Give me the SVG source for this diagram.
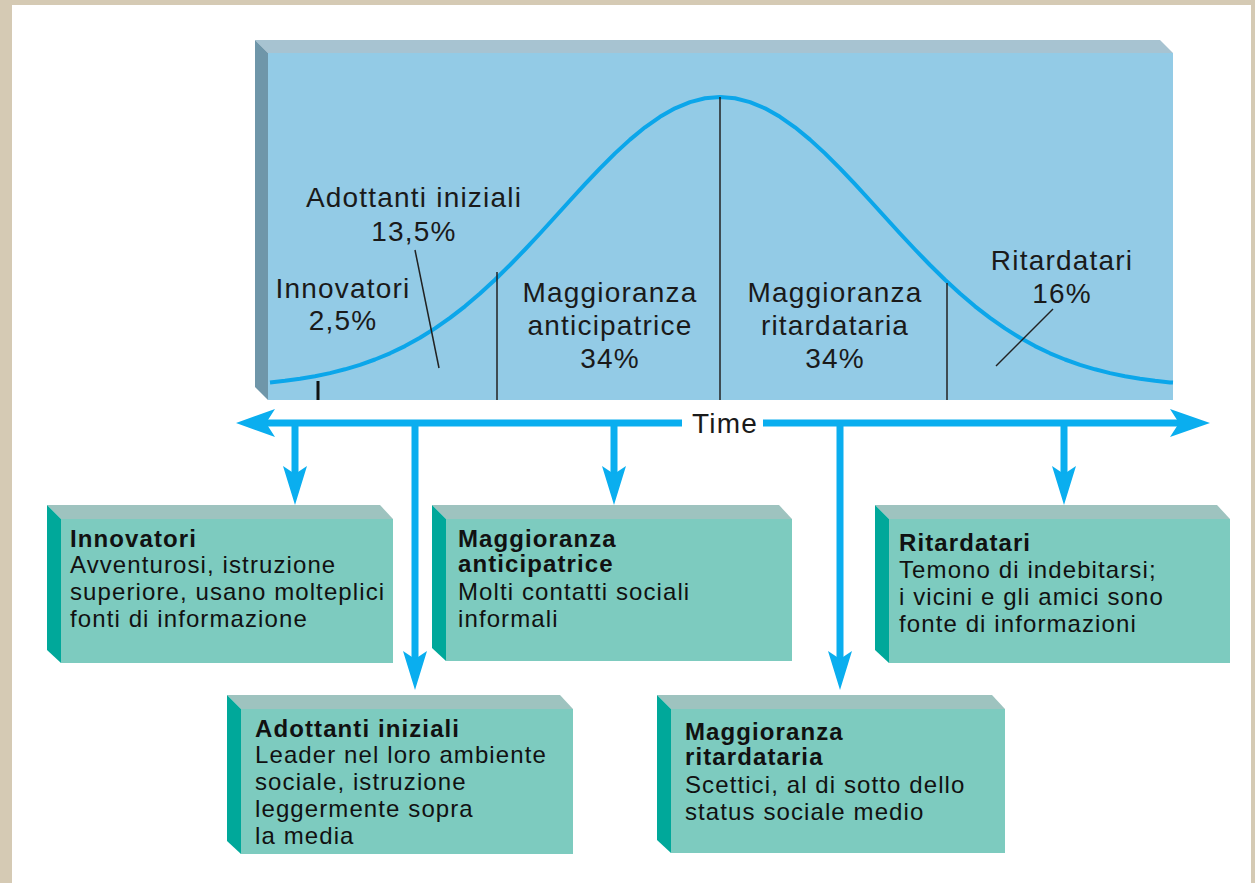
<svg xmlns="http://www.w3.org/2000/svg" width="1255" height="883" viewBox="0 0 1255 883">
<defs>
<style>
.lbl{font-family:"Liberation Sans",Arial,sans-serif;font-size:28px;letter-spacing:1.2px;fill:#1a1a1a;text-anchor:middle}
.bt{font-family:"Liberation Sans",Arial,sans-serif;font-size:24px;letter-spacing:1.1px;fill:#111}
.bt .h{font-weight:bold}
.front{fill:#7dcbbf}
.top{fill:#9ec3bf}
.side{fill:#00a89a}
.tick{stroke:#222;stroke-width:1.5;fill:none}
.axis{stroke:#0aaeef;stroke-width:7;fill:none}
.head{fill:#0aaeef}
</style>
</defs>
<rect x="0" y="0" width="1255" height="883" fill="#d5cab4"/>
<rect x="12" y="5" width="1239" height="878" fill="#ffffff"/>

<g id="chart">
<polygon points="255,40 1160,40 1173,53 268,53" fill="#a7c3d1"/>
<polygon points="255,40 268,53 268,400 255,387" fill="#6f96a9"/>
<rect x="268" y="53" width="905" height="347" fill="#93cbe6"/>
<polyline fill="none" stroke="#0ba6ea" stroke-width="4" stroke-linejoin="round" points="270,382.4 285,380.8 300,378.7 315,376.2 330,373.1 345,369.3 360,364.9 375,359.5 390,353.3 405,346.1 420,337.8 435,328.4 450,317.9 465,306.3 480,293.5 495,279.7 510,265 525,249.5 540,233.5 555,217 570,200.5 585,184.2 600,168.3 615,153.4 630,139.6 645,127.3 660,116.8 675,108.3 690,102.1 705,98.3 720,97 735,98.3 750,102.1 765,108.3 780,116.8 795,127.3 810,139.6 825,153.4 840,168.3 855,184.2 870,200.5 885,217 900,233.5 915,249.5 930,265 945,279.7 960,293.5 975,306.3 990,317.9 1005,328.4 1020,337.8 1035,346.1 1050,353.3 1065,359.5 1080,364.9 1095,369.3 1110,373.1 1125,376.2 1140,378.7 1155,380.8 1170,382.4 1173,382.6"/>
<line x1="318" y1="381" x2="318" y2="400" stroke="#111" stroke-width="3"/>
<line class="tick" x1="497" y1="272" x2="497" y2="400"/>
<line class="tick" x1="720" y1="97" x2="720" y2="400"/>
<line class="tick" x1="947" y1="283" x2="947" y2="400"/>
<line class="tick" x1="415" y1="250" x2="439" y2="368"/>
<line class="tick" x1="1053" y1="309" x2="996" y2="366"/>
<text class="lbl" x="414" y="207">Adottanti iniziali</text>
<text class="lbl" x="414" y="241">13,5%</text>
<text class="lbl" x="343" y="298">Innovatori</text>
<text class="lbl" x="343" y="330">2,5%</text>
<text class="lbl" x="610" y="302">Maggioranza</text>
<text class="lbl" x="610" y="335">anticipatrice</text>
<text class="lbl" x="610" y="368">34%</text>
<text class="lbl" x="835" y="302">Maggioranza</text>
<text class="lbl" x="835" y="335">ritardataria</text>
<text class="lbl" x="835" y="368">34%</text>
<text class="lbl" x="1062" y="270">Ritardatari</text>
<text class="lbl" x="1062" y="303">16%</text>
</g>

<g id="connectors">
<line class="axis" x1="260" y1="423" x2="682" y2="423"/>
<line class="axis" x1="763" y1="423" x2="1185" y2="423"/>
<path class="head" d="M236,423 L275,409 L266,423 L275,437 Z"/>
<path class="head" d="M1210,423 L1170,409 L1179,423 L1170,437 Z"/>
<text class="lbl" x="725" y="433">Time</text>
<line class="axis" x1="295" y1="423" x2="295" y2="478"/>
<path class="head" d="M295,505 L283,466 L295,474 L307,466 Z"/>
<line class="axis" x1="415" y1="423" x2="415" y2="663"/>
<path class="head" d="M415,690 L403,651 L415,659 L427,651 Z"/>
<line class="axis" x1="614" y1="423" x2="614" y2="478"/>
<path class="head" d="M614,505 L602,466 L614,474 L626,466 Z"/>
<line class="axis" x1="840" y1="423" x2="840" y2="663"/>
<path class="head" d="M840,690 L828,651 L840,659 L852,651 Z"/>
<line class="axis" x1="1064" y1="423" x2="1064" y2="478"/>
<path class="head" d="M1064,505 L1052,466 L1064,474 L1076,466 Z"/>
</g>

<g id="box-innovatori">
<polygon class="top" points="47,505 380,505 393,519 61,519"/>
<polygon class="side" points="47,505 61,519 61,663 47,650"/>
<rect class="front" x="61" y="519" width="332" height="144"/>
<text class="bt" x="70"><tspan class="h" x="70" y="547">Innovatori</tspan><tspan x="70" y="573">Avventurosi, istruzione</tspan><tspan x="70" y="600">superiore, usano molteplici</tspan><tspan x="70" y="627">fonti di informazione</tspan></text>
</g>

<g id="box-adottanti">
<polygon class="top" points="227,695 560,695 573,709 241,709"/>
<polygon class="side" points="227,695 241,709 241,854 227,841"/>
<rect class="front" x="241" y="709" width="332" height="145"/>
<text class="bt" x="255"><tspan class="h" x="255" y="737">Adottanti iniziali</tspan><tspan x="255" y="763">Leader nel loro ambiente</tspan><tspan x="255" y="790">sociale, istruzione</tspan><tspan x="255" y="817">leggermente sopra</tspan><tspan x="255" y="844">la media</tspan></text>
</g>

<g id="box-anticipatrice">
<polygon class="top" points="432,505 779,505 792,519 446,519"/>
<polygon class="side" points="432,505 446,519 446,661 432,648"/>
<rect class="front" x="446" y="519" width="346" height="142"/>
<text class="bt" x="458"><tspan class="h" x="458" y="547">Maggioranza</tspan><tspan class="h" x="458" y="572">anticipatrice</tspan><tspan x="458" y="600">Molti contatti sociali</tspan><tspan x="458" y="627">informali</tspan></text>
</g>

<g id="box-ritardataria">
<polygon class="top" points="657,695 992,695 1005,709 671,709"/>
<polygon class="side" points="657,695 671,709 671,853 657,840"/>
<rect class="front" x="671" y="709" width="334" height="144"/>
<text class="bt" x="685"><tspan class="h" x="685" y="740">Maggioranza</tspan><tspan class="h" x="685" y="765">ritardataria</tspan><tspan x="685" y="793">Scettici, al di sotto dello</tspan><tspan x="685" y="820">status sociale medio</tspan></text>
</g>

<g id="box-ritardatari">
<polygon class="top" points="875,505 1217,505 1230,519 889,519"/>
<polygon class="side" points="875,505 889,519 889,663 875,650"/>
<rect class="front" x="889" y="519" width="341" height="144"/>
<text class="bt" x="899"><tspan class="h" x="899" y="551">Ritardatari</tspan><tspan x="899" y="578">Temono di indebitarsi;</tspan><tspan x="899" y="605">i vicini e gli amici sono</tspan><tspan x="899" y="632">fonte di informazioni</tspan></text>
</g>
</svg>
